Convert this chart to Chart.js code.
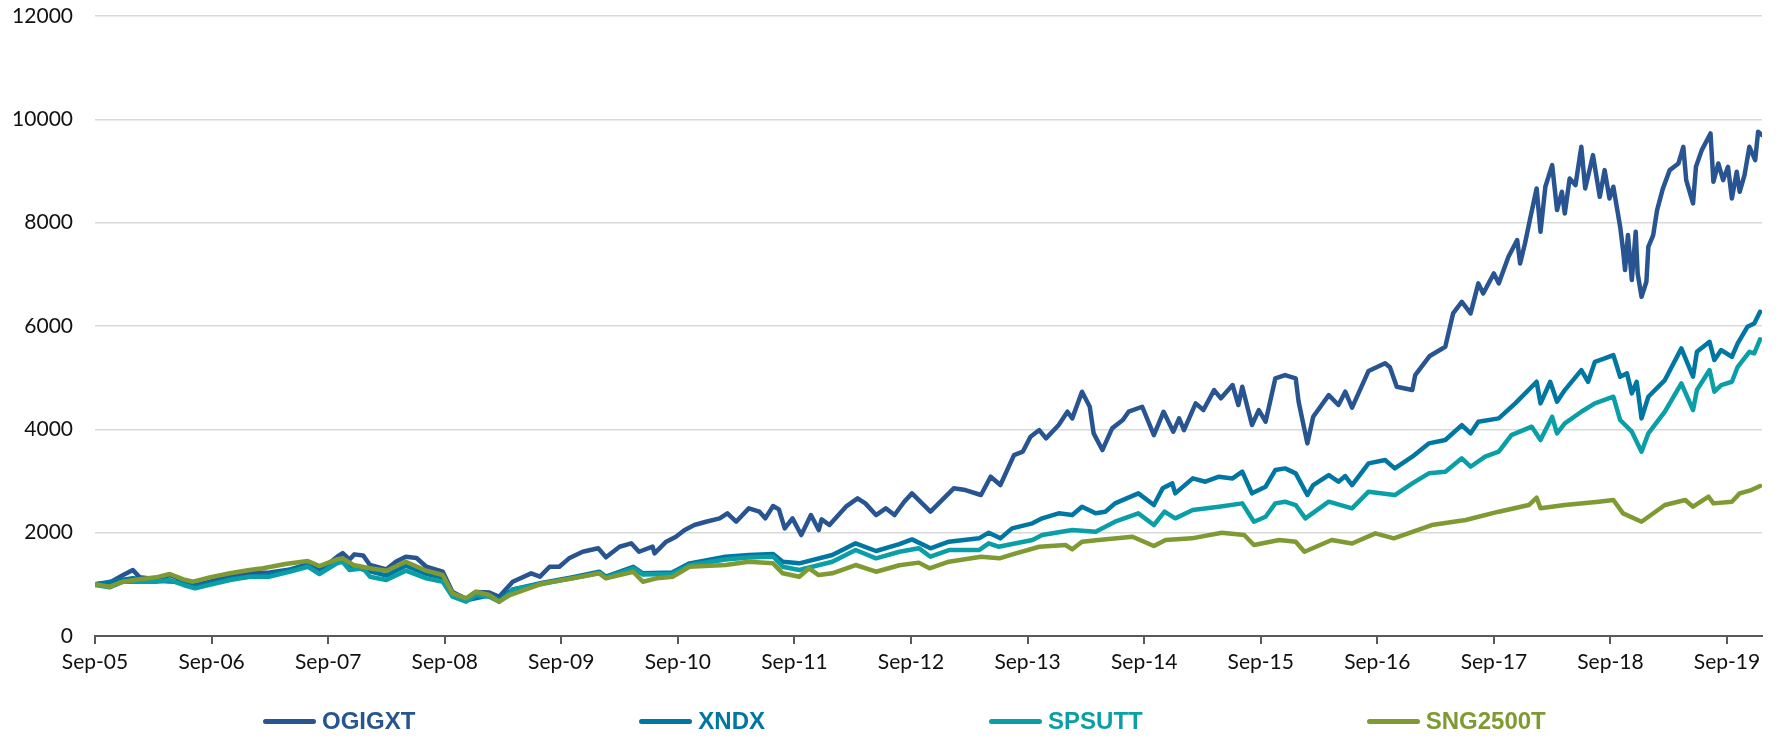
<!DOCTYPE html>
<html>
<head>
<meta charset="utf-8">
<title>OGIGXT vs indices</title>
<script src="https://cdn.jsdelivr.net/npm/chart.js@4.4.1/dist/chart.umd.min.js"></script>
<style>
  html, body { margin: 0; padding: 0; background: #fff; }
  #wrap { position: relative; width: 1787px; height: 742px; overflow: hidden; }
  #legend {
    position: absolute; left: 263px; top: 709px; height: 24px;
    display: flex; align-items: center; gap: 224px;
    font-family: "Liberation Sans", Arial, sans-serif; font-weight: bold; font-size: 24px; line-height: 24px;
  }
  #legend .item { display: flex; align-items: center; white-space: nowrap; }
  #legend .swatch { width: 53px; height: 5px; border-radius: 3px; margin-right: 6px; }
</style>
</head>
<body>
<div id="wrap">
  <canvas id="chart" width="1787" height="742"></canvas>
  <div id="legend"></div>
</div>
<script>
'use strict';

// ── 데이터 (x = Sep-05 이후 개월 수, y = 지수값) ───────────────

var tickLabels = ['Sep-05', 'Sep-06', 'Sep-07', 'Sep-08', 'Sep-09', 'Sep-10', 'Sep-11', 'Sep-12',
                  'Sep-13', 'Sep-14', 'Sep-15', 'Sep-16', 'Sep-17', 'Sep-18', 'Sep-19'];

var seriesNames  = ['OGIGXT', 'XNDX', 'SPSUTT', 'SNG2500T'];
var seriesColors = ['#285591', '#0077a2', '#0a9fa6', '#7f9a32'];

var ogigxt = [
  [0, 1000], [1.5, 1032], [2.9, 1180], [3.9, 1277], [4.6, 1135], [6.3, 1097], [7.7, 1180], [9.1, 1083],
  [10.3, 980], [11.8, 1050], [13.9, 1150], [15.9, 1215], [18.0, 1230], [20.1, 1290], [21.9, 1390], [23.1, 1260],
  [24.9, 1530], [25.5, 1605], [26.2, 1480], [26.7, 1580], [27.6, 1560], [28.3, 1374], [30.0, 1290], [31.0, 1440],
  [32.0, 1535], [33.1, 1510], [34.1, 1340], [35.8, 1244], [36.8, 850], [38.2, 720], [39.2, 850], [40.6, 840],
  [41.6, 760], [43.0, 1051], [44.9, 1213], [45.8, 1148], [46.8, 1341], [47.8, 1341], [48.8, 1503], [50.2, 1631],
  [51.8, 1697], [52.6, 1523], [54.0, 1728], [55.2, 1794], [56.0, 1631], [57.4, 1730], [57.6, 1600], [58.8, 1825],
  [59.8, 1922], [60.7, 2051], [61.7, 2148], [62.9, 2212], [64.3, 2277], [65.1, 2374], [66.0, 2212], [67.3, 2471],
  [68.4, 2406], [69.0, 2277], [69.8, 2516], [70.4, 2450], [71.0, 2083], [71.8, 2277], [72.7, 1954], [73.7, 2341],
  [74.5, 2051], [74.8, 2257], [75.6, 2148], [77.3, 2503], [78.5, 2664], [79.3, 2567], [80.4, 2341], [81.4, 2471],
  [82.3, 2341], [83.3, 2599], [84.1, 2761], [86.0, 2406], [88.4, 2858], [89.6, 2825], [91.2, 2729], [92.2, 3083],
  [93.2, 2922], [94.6, 3502], [95.5, 3567], [96.3, 3857], [97.2, 3986], [97.9, 3825], [99.2, 4083], [100.1, 4341],
  [100.6, 4212], [101.6, 4728], [102.4, 4437], [102.8, 3922], [103.7, 3599], [104.7, 4019], [105.8, 4180], [106.4, 4341],
  [107.8, 4437], [109.0, 3889], [110.0, 4341], [111.0, 3954], [111.6, 4212], [112.1, 3986], [113.3, 4502], [114.1, 4373],
  [115.2, 4760], [115.9, 4600], [117.1, 4857], [117.7, 4470], [118.1, 4824], [119.1, 4083], [119.8, 4373], [120.5, 4147],
  [121.5, 4986], [122.5, 5050], [123.6, 4986], [123.9, 4534], [124.8, 3728], [125.4, 4243], [127.0, 4663], [128.0, 4470],
  [128.7, 4728], [129.4, 4420], [131.1, 5130], [132.8, 5280], [133.3, 5200], [134.0, 4824], [135.6, 4760], [135.9, 5050],
  [137.4, 5420], [139.0, 5598], [139.8, 6244], [140.7, 6469], [141.6, 6244], [142.4, 6825], [142.9, 6630], [144.0, 7018],
  [144.5, 6825], [145.5, 7340], [146.4, 7663], [146.7, 7211], [147.2, 7598], [147.7, 8050], [148.4, 8663], [148.8, 7824],
  [149.3, 8695], [150.0, 9114], [150.5, 8243], [151.0, 8598], [151.3, 8179], [151.8, 8856], [152.4, 8727], [153.0, 9468],
  [153.4, 8663], [154.2, 9307], [154.9, 8501], [155.4, 9017], [155.9, 8469], [156.3, 8695], [157.0, 7920], [157.3, 7469],
  [157.5, 7082], [157.8, 7760], [158.2, 6889], [158.6, 7824], [158.8, 7018], [159.2, 6566], [159.7, 6856], [159.9, 7533],
  [160.4, 7760], [160.8, 8243], [161.4, 8663], [162.1, 9017], [163.0, 9146], [163.5, 9468], [163.8, 8824], [164.5, 8372],
  [164.8, 9081], [165.4, 9404], [166.3, 9727], [166.6, 8791], [167.1, 9146], [167.6, 8824], [168.1, 9081], [168.5, 8469],
  [169.0, 8985], [169.3, 8598], [169.8, 8920], [170.3, 9468], [170.9, 9211], [171.2, 9758], [171.6, 9695]
];

var xndx = [
  [0, 1000], [2.9, 1090], [3.9, 1120], [6.3, 1070], [9.1, 1040], [10.3, 960], [13.9, 1110], [18.0, 1190],
  [21.9, 1360], [23.1, 1230], [25.5, 1500], [26.2, 1360], [28.3, 1250], [30.0, 1170], [32.0, 1360], [34.1, 1200],
  [35.8, 1130], [36.8, 800], [38.2, 690], [40.6, 790], [41.6, 700], [43.0, 900], [46.1, 1030], [49.2, 1140],
  [51.9, 1245], [52.6, 1150], [55.4, 1340], [56.4, 1213], [59.4, 1230], [61.2, 1406], [64.9, 1535], [67.3, 1567],
  [69.8, 1588], [70.8, 1438], [72.5, 1406], [75.9, 1567], [78.3, 1793], [80.4, 1645], [82.8, 1780], [84.1, 1870],
  [86.0, 1697], [87.9, 1825], [91.0, 1890], [92.0, 2000], [93.2, 1890], [94.4, 2083], [96.5, 2180], [97.5, 2277],
  [99.2, 2374], [100.6, 2341], [101.6, 2503], [103.0, 2374], [104.0, 2405], [105.0, 2567], [107.4, 2761], [109.0, 2535],
  [109.9, 2858], [110.9, 2954], [111.2, 2761], [113.0, 3051], [114.3, 2986], [115.7, 3083], [117.1, 3050], [118.1, 3180],
  [119.1, 2761], [120.5, 2890], [121.5, 3212], [122.5, 3244], [123.6, 3148], [124.8, 2729], [125.4, 2922], [127.0, 3115],
  [128.0, 2986], [128.7, 3096], [129.4, 2922], [131.1, 3341], [132.8, 3405], [133.8, 3244], [135.6, 3470], [137.3, 3728],
  [139.0, 3793], [140.7, 4083], [141.6, 3922], [142.4, 4147], [144.5, 4212], [146.2, 4502], [148.4, 4921], [148.8, 4502],
  [149.8, 4921], [150.5, 4534], [151.3, 4760], [153.0, 5147], [153.7, 4921], [154.4, 5308], [155.4, 5373], [156.3, 5437],
  [157.0, 5018], [157.7, 5083], [158.2, 4696], [158.7, 4921], [159.2, 4212], [159.9, 4631], [161.6, 4954], [163.3, 5567],
  [164.5, 5018], [164.9, 5501], [166.2, 5695], [166.7, 5341], [167.4, 5534], [168.5, 5405], [169.1, 5663], [170.1, 5985],
  [170.8, 6050], [171.4, 6275]
];

var spsutt = [
  [0, 990], [1.5, 942], [2.9, 1051], [4.6, 1051], [6.3, 1051], [7.7, 1083], [9.1, 987], [10.3, 922],
  [11.8, 990], [13.9, 1083], [15.9, 1148], [18.0, 1148], [20.1, 1245], [21.9, 1341], [23.1, 1200], [24.9, 1406],
  [25.5, 1438], [26.2, 1277], [27.6, 1310], [28.3, 1148], [30.0, 1083], [32.0, 1264], [34.1, 1116], [35.8, 1051],
  [36.8, 761], [38.2, 664], [39.2, 793], [40.6, 761], [41.6, 664], [42.7, 826], [43.0, 900], [46.1, 1010],
  [49.2, 1120], [51.9, 1220], [52.6, 1130], [55.4, 1310], [56.4, 1190], [59.4, 1200], [61.2, 1370], [64.9, 1480],
  [67.3, 1520], [69.8, 1540], [70.8, 1341], [72.5, 1277], [75.9, 1438], [78.3, 1664], [80.4, 1503], [82.8, 1630],
  [84.8, 1700], [86.0, 1535], [87.9, 1664], [91.0, 1664], [92.0, 1794], [93.0, 1728], [96.5, 1858], [97.5, 1954],
  [100.6, 2051], [103.0, 2019], [105.0, 2212], [107.4, 2374], [109.0, 2148], [110.1, 2406], [111.2, 2277], [113.0, 2438],
  [115.7, 2503], [118.1, 2567], [119.3, 2212], [120.5, 2309], [121.5, 2567], [122.5, 2600], [123.6, 2535], [124.6, 2277],
  [127.0, 2600], [129.4, 2471], [131.1, 2793], [133.8, 2729], [135.6, 2954], [137.3, 3148], [139.0, 3180], [140.7, 3438],
  [141.6, 3276], [143.1, 3470], [144.5, 3567], [145.8, 3889], [147.9, 4051], [148.8, 3793], [150.0, 4243], [150.5, 3922],
  [151.3, 4115], [153.0, 4341], [154.4, 4502], [156.3, 4631], [157.0, 4180], [158.2, 3954], [159.2, 3567], [159.9, 3922],
  [161.6, 4341], [163.3, 4889], [164.5, 4373], [164.9, 4760], [166.2, 5147], [166.7, 4728], [167.4, 4857], [168.5, 4921],
  [169.1, 5211], [170.3, 5501], [170.8, 5470], [171.4, 5741]
];

var sng2500t = [
  [0, 1000], [1.5, 955], [2.9, 1051], [4.6, 1097], [6.3, 1135], [7.7, 1200], [9.1, 1097], [10.1, 1051],
  [11.8, 1135], [13.9, 1213], [15.9, 1277], [17.3, 1310], [19.6, 1393], [21.9, 1451], [23.1, 1354], [24.9, 1484],
  [25.5, 1503], [26.6, 1374], [28.3, 1310], [30.0, 1264], [32.0, 1438], [34.1, 1264], [35.8, 1180], [36.8, 826],
  [38.2, 729], [39.2, 858], [40.6, 793], [41.6, 664], [42.7, 793], [46.1, 1019], [49.2, 1116], [51.9, 1213],
  [52.6, 1116], [55.4, 1244], [56.4, 1051], [57.8, 1116], [59.5, 1148], [61.2, 1341], [64.9, 1374], [67.3, 1438],
  [69.8, 1406], [70.8, 1213], [72.5, 1148], [73.5, 1310], [74.5, 1180], [75.9, 1213], [78.3, 1374], [80.4, 1244],
  [82.8, 1370], [84.8, 1420], [85.9, 1310], [87.9, 1438], [91.2, 1535], [93.1, 1503], [94.8, 1600], [97.2, 1728],
  [99.9, 1761], [100.6, 1677], [101.6, 1825], [103.3, 1858], [106.8, 1922], [109.0, 1741], [110.2, 1858], [112.9, 1890],
  [116.0, 2000], [118.3, 1954], [119.3, 1761], [121.9, 1858], [123.6, 1825], [124.5, 1631], [127.3, 1858], [129.4, 1790],
  [131.8, 1987], [133.7, 1890], [137.6, 2148], [141.1, 2245], [144.5, 2406], [147.6, 2535], [148.4, 2677], [148.8, 2471],
  [151.3, 2535], [154.8, 2600], [156.3, 2632], [157.3, 2374], [159.2, 2212], [161.6, 2535], [163.7, 2632], [164.5, 2503],
  [166.1, 2696], [166.6, 2567], [168.5, 2600], [169.3, 2761], [170.5, 2825], [171.4, 2903]
];

var seriesData = [ogigxt, xndx, spsutt, sng2500t];

// ── 범례 (HTML) ────────────────────────────────────────────────

function buildLegend() {
  var box = document.getElementById('legend');
  for (var i = 0; i < seriesNames.length; i++) {
    var item = document.createElement('div');
    item.className = 'item';
    item.style.color = seriesColors[i];
    var sw = document.createElement('span');
    sw.className = 'swatch';
    sw.style.background = seriesColors[i];
    var tx = document.createElement('span');
    tx.textContent = seriesNames[i];
    item.appendChild(sw);
    item.appendChild(tx);
    box.appendChild(item);
  }
}

// ── 차트 ───────────────────────────────────────────────────────

function toPoints(pairs) {
  return pairs.map(function (p) { return { x: p[0], y: p[1] }; });
}

function renderChart() {
  var datasets = [];
  for (var i = 0; i < seriesNames.length; i++) {
    datasets.push({
      label: seriesNames[i],
      data: toPoints(seriesData[i]),
      borderColor: seriesColors[i],
      backgroundColor: seriesColors[i],
      borderWidth: 4.5,
      pointRadius: 0,
      tension: 0,
      borderJoinStyle: 'round',
      borderCapStyle: 'round',
      order: seriesNames.length - i   // 마지막 시리즈가 맨 위
    });
  }

  var tickFont = { family: 'Lato, "Open Sans", sans-serif', size: 21 };

  new Chart(document.getElementById('chart').getContext('2d'), {
    type: 'line',
    data: { datasets: datasets },
    options: {
      responsive: false,
      animation: false,
      devicePixelRatio: 1,
      layout: { padding: { left: 0, right: 25, top: 16, bottom: 0 } },
      plugins: { legend: { display: false }, tooltip: { enabled: false } },
      scales: {
        x: {
          type: 'linear',
          min: 0,
          max: 171.6,
          afterFit: function (scale) {
            scale.height = 106;
            scale.paddingLeft = 0;
            scale.paddingRight = 0;
          },
          ticks: {
            stepSize: 12,
            includeBounds: false,
            autoSkip: false,
            maxRotation: 0,
            padding: 6,
            color: '#111',
            font: tickFont,
            callback: function (v) { return tickLabels[Math.round(v / 12)] || ''; }
          },
          grid: { drawOnChartArea: false, drawTicks: true, tickLength: 8, color: '#595959', lineWidth: 2 },
          border: { display: true, color: '#595959', width: 2 }
        },
        y: {
          min: 0,
          max: 12000,
          afterFit: function (scale) {
            scale.width = 95;
            scale.paddingTop = 0;
            scale.paddingBottom = 0;
          },
          ticks: {
            stepSize: 2000,
            padding: 22,
            color: '#111',
            font: tickFont,
            callback: function (v) { return String(v); }
          },
          grid: { color: '#d9d9d9', lineWidth: 1.5, drawTicks: false },
          border: { display: false }
        }
      }
    }
  });
}

buildLegend();
renderChart();
</script>
</body>
</html>
